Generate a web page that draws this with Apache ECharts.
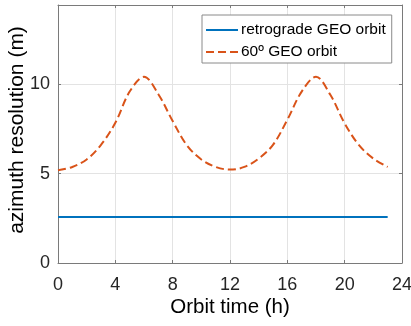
<!DOCTYPE html>
<html>
<head>
<meta charset="utf-8">
<script src="https://cdn.jsdelivr.net/npm/echarts@6/dist/echarts.min.js"></script>
<style>
html,body{margin:0;padding:0;background:#fff;}
#chart{width:411px;height:326px;}
</style>
</head>
<body>
<div id="chart"></div>
<script>
const hours = [0,1,2,3,4,5,6,7,8,9,10,11,12,13,14,15,16,17,18,19,20,21,22,23];
const retrograde = [2.58,2.58,2.58,2.58,2.58,2.58,2.58,2.58,2.58,2.58,2.58,2.58,2.58,2.58,2.58,2.58,2.58,2.58,2.58,2.58,2.58,2.58,2.58,2.58];
const geo60 = [5.2,5.38,5.8,6.62,7.85,9.6,10.43,9.45,7.95,6.58,5.8,5.38,5.23,5.38,5.85,6.62,8.02,9.6,10.43,9.42,7.82,6.6,5.85,5.38];
const xTicks = [0,4,8,12,16,20,24];
const yTicks = [0,5,10];
const seriesNames = ['retrograde GEO orbit', '60º GEO orbit'];
const xTitle = 'Orbit time (h)';
const yTitle = 'azimuth resolution (m)';

const FONT = 'Liberation Sans, Arial, sans-serif';
const axisCol = '#7a7a7a';
const labelCol = '#262626';
const gridCol = '#e3e3e3';

function pairs(xs, ys){ return xs.map((x,i)=>[x, ys[i]]); }

const chart = echarts.init(document.getElementById('chart'), null, {renderer:'canvas'});
const baseX = {
  type:'value', min:0, max:24, interval:4,
  axisLine:{show:true, onZero:false, lineStyle:{color:axisCol, width:1}},
  axisTick:{show:true, inside:true, length:3, lineStyle:{color:axisCol}},
  splitLine:{show:false}
};
const baseY = {
  type:'value', min:0, max:14.45, interval:5,
  axisLine:{show:true, onZero:false, lineStyle:{color:axisCol, width:1}},
  axisTick:{show:true, inside:true, length:3, lineStyle:{color:axisCol}},
  splitLine:{show:false}
};
chart.setOption({
  animation:false,
  backgroundColor:'#fff',
  grid:{left:58, right:9, top:5, bottom:63, containLabel:false, outerBoundsMode:'none'},
  xAxis:[
    Object.assign({}, baseX, {
      position:'bottom',
      name:xTitle, nameLocation:'middle', nameGap:34, nameMoveOverlap:false,
      nameTextStyle:{fontFamily:FONT, fontSize:20.5, color:'#000'},
      axisLabel:{show:true, fontFamily:FONT, fontSize:18, color:labelCol, margin:13,
        formatter:v=> xTicks.includes(v) ? String(v) : ''},
      splitLine:{show:true, lineStyle:{color:gridCol, width:1}}
    }),
    Object.assign({}, baseX, {position:'top', axisLabel:{show:false}})
  ],
  yAxis:[
    Object.assign({}, baseY, {
      position:'left',
      name:yTitle, nameLocation:'middle', nameGap:30, nameMoveOverlap:false,
      nameTextStyle:{fontFamily:FONT, fontSize:21, color:'#000', padding:[0,0,0,8]},
      axisLabel:{show:true, showMaxLabel:false, fontFamily:FONT, fontSize:18, color:labelCol, margin:8,
        formatter:v=> yTicks.includes(v) ? String(v) : ''},
      splitLine:{show:true, lineStyle:{color:gridCol, width:1}}
    }),
    Object.assign({}, baseY, {position:'right', axisLabel:{show:false}})
  ],
  legend:{
    left:202, top:15, orient:'vertical',
    padding:[7,6,3,3],
    itemWidth:32, itemHeight:16, itemGap:6,
    borderColor:'#8a8a8a', borderWidth:1, borderRadius:0,
    backgroundColor:'#fff',
    itemStyle:{color:'rgba(0,0,0,0)', borderWidth:0, opacity:0},
    textStyle:{fontFamily:FONT, fontSize:15.5, color:'#000', padding:[0,0,0,-2]},
    data:seriesNames
  },
  series:[
    {
      name:seriesNames[0], type:'line', xAxisIndex:0, yAxisIndex:0,
      data:pairs(hours, retrograde), symbol:'none', showSymbol:false,
      lineStyle:{color:'#0072BD', width:2}, itemStyle:{color:'#0072BD'}
    },
    {
      name:seriesNames[1], type:'line', xAxisIndex:0, yAxisIndex:0,
      data:pairs(hours, geo60), symbol:'none', showSymbol:false, smooth:0.35,
      lineStyle:{color:'#D95319', width:2, type:[8,4]}, itemStyle:{color:'#D95319'}
    }
  ]
});
</script>
</body>
</html>
